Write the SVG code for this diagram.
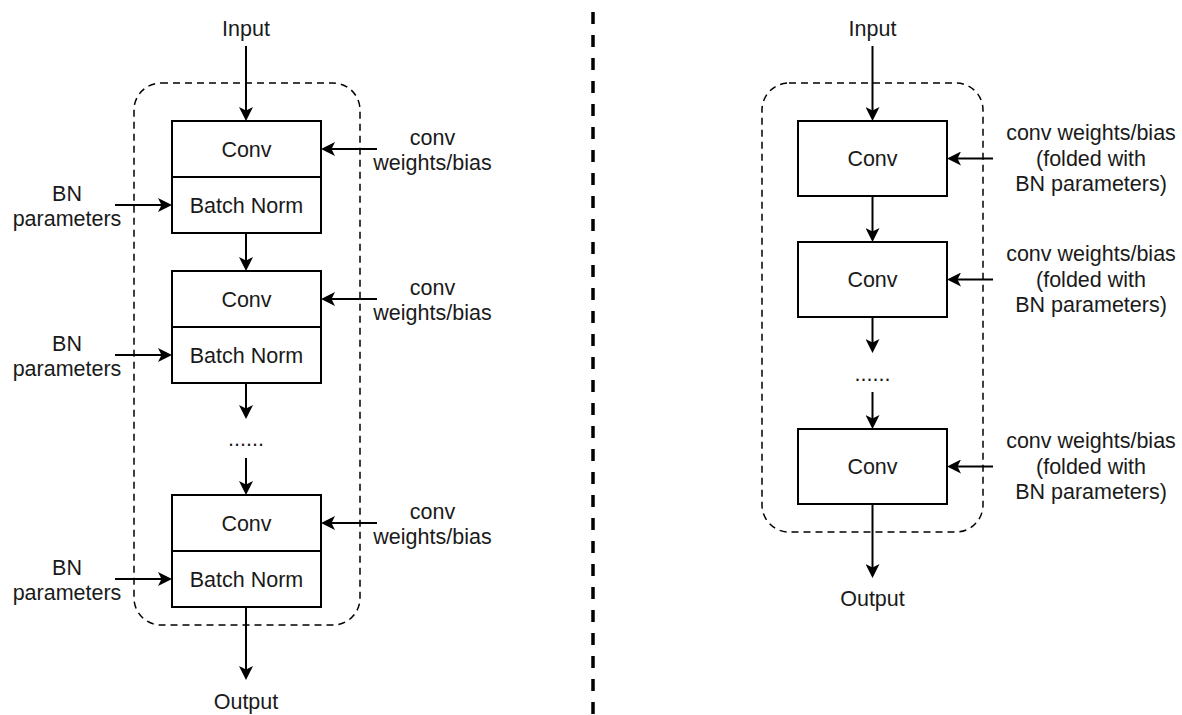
<svg xmlns="http://www.w3.org/2000/svg" width="1182" height="715" viewBox="0 0 1182 715">
  <style>
    text { font-family: "Liberation Sans", Arial, Helvetica, sans-serif; font-size: 21.5px; fill: #1a1a1a; text-anchor: middle; }
    .box { fill: #ffffff; stroke: #000000; stroke-width: 2; }
    .sep { stroke: #000000; stroke-width: 2; }
    .group { fill: none; stroke: #000000; stroke-width: 1.5; stroke-dasharray: 7 5; }
    .edge { fill: none; stroke: #000000; stroke-width: 2; marker-end: url(#arrow); }
    .divider { stroke: #000000; stroke-width: 3.5; stroke-dasharray: 12 11; }
  </style>
  <defs>
    <marker id="arrow" viewBox="0 0 14 14" refX="4" refY="7" markerWidth="14" markerHeight="14" markerUnits="userSpaceOnUse" orient="auto">
      <path d="M0,0 L14,7 L0,14 L3.5,7 Z" fill="#000000"/>
    </marker>
  </defs>
  <rect width="1182" height="715" fill="#ffffff"/>

  <!-- left: unfused network -->
  <g id="left-group"><rect class="group" x="134" y="83" width="226" height="542" rx="27" ry="27"/></g>
  <g id="left-input"><text x="246" y="36">Input</text></g>
  <g id="left-block1">
    <rect class="box" x="172" y="121" width="149" height="112"/>
    <line class="sep" x1="172" y1="177" x2="321" y2="177"/>
    <text x="246.5" y="156.5">Conv</text>
    <text x="246.5" y="212.5">Batch Norm</text>
  </g>
  <g id="left-block2">
    <rect class="box" x="172" y="271" width="149" height="112"/>
    <line class="sep" x1="172" y1="327" x2="321" y2="327"/>
    <text x="246.5" y="306.5">Conv</text>
    <text x="246.5" y="362.5">Batch Norm</text>
  </g>
  <g id="left-ellipsis"><text x="246" y="446">......</text></g>
  <g id="left-block3">
    <rect class="box" x="172" y="495" width="149" height="112"/>
    <line class="sep" x1="172" y1="551" x2="321" y2="551"/>
    <text x="246.5" y="530.5">Conv</text>
    <text x="246.5" y="586.5">Batch Norm</text>
  </g>
  <g id="left-output"><text x="246" y="709">Output</text></g>
  <g id="left-conv-params">
    <text x="432.5" y="145">conv</text><text x="432.5" y="170">weights/bias</text>
    <text x="432.5" y="295">conv</text><text x="432.5" y="320">weights/bias</text>
    <text x="432.5" y="519">conv</text><text x="432.5" y="544">weights/bias</text>
  </g>
  <g id="left-bn-params">
    <text x="67" y="201">BN</text><text x="67" y="226">parameters</text>
    <text x="67" y="351">BN</text><text x="67" y="376">parameters</text>
    <text x="67" y="575">BN</text><text x="67" y="600">parameters</text>
  </g>

  <!-- right: conv with folded batch norm -->
  <g id="right-group"><rect class="group" x="762" y="83" width="221" height="449" rx="27" ry="27"/></g>
  <g id="right-input"><text x="872.5" y="36">Input</text></g>
  <g id="right-conv1">
    <rect class="box" x="798" y="121" width="149" height="75"/>
    <text x="872.5" y="166">Conv</text>
  </g>
  <g id="right-conv2">
    <rect class="box" x="798" y="242" width="149" height="75"/>
    <text x="872.5" y="287">Conv</text>
  </g>
  <g id="right-ellipsis"><text x="872.5" y="381">......</text></g>
  <g id="right-conv3">
    <rect class="box" x="798" y="429" width="149" height="75"/>
    <text x="872.5" y="474">Conv</text>
  </g>
  <g id="right-output"><text x="872.5" y="606">Output</text></g>
  <g id="right-params">
    <text x="1091" y="140">conv weights/bias</text><text x="1091" y="165.5">(folded with</text><text x="1091" y="191">BN parameters)</text>
    <text x="1091" y="261">conv weights/bias</text><text x="1091" y="286.5">(folded with</text><text x="1091" y="312">BN parameters)</text>
    <text x="1091" y="448">conv weights/bias</text><text x="1091" y="473.5">(folded with</text><text x="1091" y="499">BN parameters)</text>
  </g>

  <!-- separator between the two variants -->
  <line class="divider" x1="593" y1="12" x2="593" y2="715"/>

  <g id="connectors">
    <!-- left column -->
    <line class="edge" x1="246" y1="46" x2="246" y2="111"/>
    <line class="edge" x1="246" y1="233" x2="246" y2="261"/>
    <line class="edge" x1="246" y1="383" x2="246" y2="409"/>
    <line class="edge" x1="246" y1="458" x2="246" y2="485"/>
    <line class="edge" x1="246" y1="607" x2="246" y2="670"/>
    <line class="edge" x1="377" y1="149" x2="331" y2="149"/>
    <line class="edge" x1="377" y1="299" x2="331" y2="299"/>
    <line class="edge" x1="377" y1="523" x2="331" y2="523"/>
    <line class="edge" x1="115" y1="205" x2="162" y2="205"/>
    <line class="edge" x1="115" y1="355" x2="162" y2="355"/>
    <line class="edge" x1="115" y1="579" x2="162" y2="579"/>
    <!-- right column -->
    <line class="edge" x1="872.5" y1="46" x2="872.5" y2="111"/>
    <line class="edge" x1="872.5" y1="196" x2="872.5" y2="232"/>
    <line class="edge" x1="872.5" y1="317" x2="872.5" y2="343"/>
    <line class="edge" x1="872.5" y1="392" x2="872.5" y2="419"/>
    <line class="edge" x1="872.5" y1="504" x2="872.5" y2="568"/>
    <line class="edge" x1="993" y1="158.5" x2="957" y2="158.5"/>
    <line class="edge" x1="993" y1="279.5" x2="957" y2="279.5"/>
    <line class="edge" x1="993" y1="466.5" x2="957" y2="466.5"/>
  </g>
</svg>
